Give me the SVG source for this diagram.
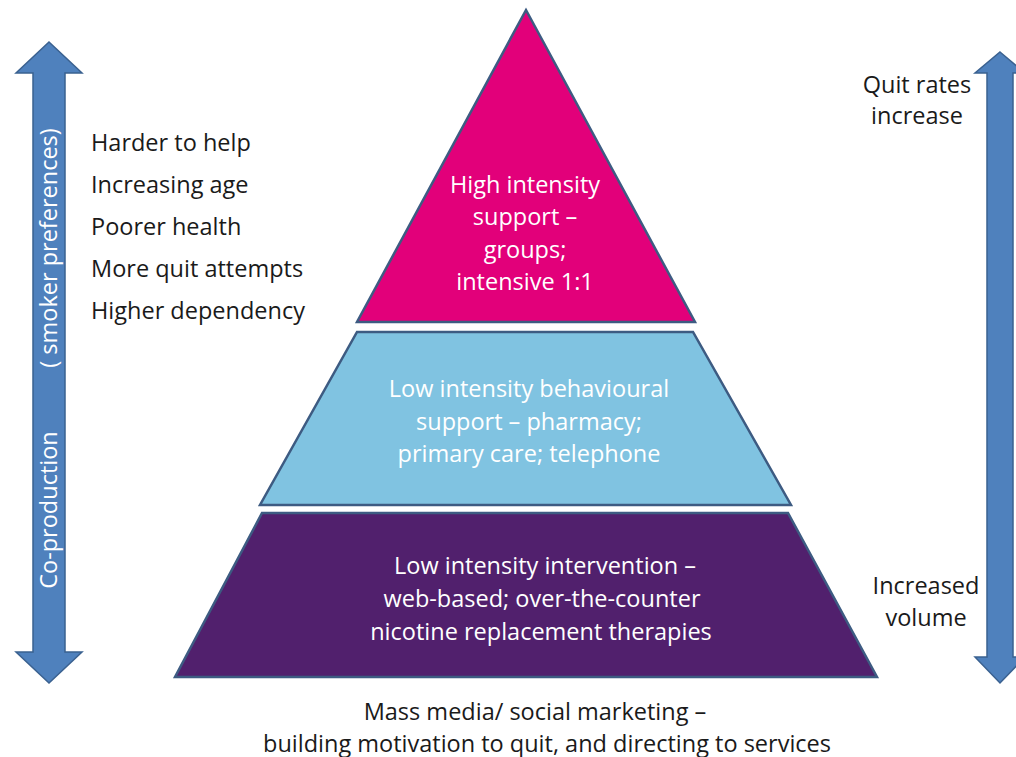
<svg xmlns="http://www.w3.org/2000/svg" width="1016" height="757" viewBox="0 0 1016 757">
<style>
.t{font-family:"Open Sans","Liberation Sans",sans-serif;font-size:23.5px;fill:#1a1a1a}
.w{font-family:"Open Sans","Liberation Sans",sans-serif;font-size:23.5px;fill:#ffffff;text-anchor:middle}
.c{text-anchor:middle}
.lvl{stroke:#3d5b82;stroke-width:2.5;stroke-linejoin:miter}
.arr{fill:#4f81bd;stroke:#3a6190;stroke-width:1.5}
</style>
<rect width="1016" height="757" fill="#ffffff"/>
<g id="left-arrow">
<polygon class="arr" points="49,42 82,73 65,73 65,652 82,652 49,683 16,652 33,652 33,73 16,73"/>
<text class="w" transform="translate(57,510) rotate(-90)">Co-production</text>
<text class="w" transform="translate(57,248) rotate(-90)">( smoker preferences)</text>
</g>
<g id="right-arrow">
<polygon class="arr" points="1000,52 1025,73 1013,73 1013,657 1025,657 1000,683 975,657 987,657 987,73 975,73"/>
</g>
<g id="left-labels">
<text class="t" x="91" y="151">Harder to help</text>
<text class="t" x="91" y="193">Increasing age</text>
<text class="t" x="91" y="235">Poorer health</text>
<text class="t" x="91" y="277">More quit attempts</text>
<text class="t" x="91" y="319">Higher dependency</text>
</g>
<g id="right-labels">
<text class="t c" x="917" y="93">Quit rates</text>
<text class="t c" x="917" y="124">increase</text>
<text class="t c" x="926" y="594">Increased</text>
<text class="t c" x="926" y="626">volume</text>
</g>
<g id="level-high">
<polygon class="lvl" fill="#e2007a" points="526,10 695,322 357,322"/>
<text class="w" x="525" y="193">High intensity</text>
<text class="w" x="525" y="225">support –</text>
<text class="w" x="525" y="258">groups;</text>
<text class="w" x="525" y="290">intensive 1:1</text>
</g>
<g id="level-mid">
<polygon class="lvl" fill="#80c3e1" points="357,332 693,332 791,505 260,505"/>
<text class="w" x="529" y="397">Low intensity behavioural</text>
<text class="w" x="529" y="430">support – pharmacy;</text>
<text class="w" x="529" y="462">primary care; telephone</text>
</g>
<g id="level-low">
<polygon class="lvl" fill="#51206d" points="262,513 788,513 877,677 175,677"/>
<text class="w" x="545" y="574">Low intensity intervention –</text>
<text class="w" x="542" y="607">web-based; over-the-counter</text>
<text class="w" x="541" y="640">nicotine replacement therapies</text>
</g>
<g id="base-label">
<text class="t c" x="535" y="720">Mass media/ social marketing –</text>
<text class="t c" x="547" y="752">building motivation to quit, and directing to services</text>
</g>
</svg>
